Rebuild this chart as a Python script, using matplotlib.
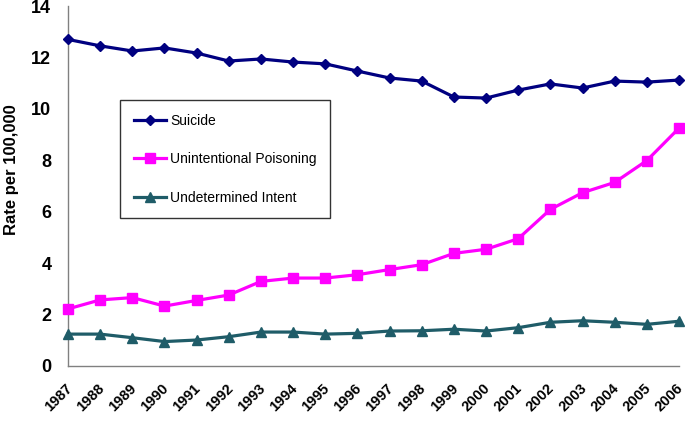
import matplotlib
matplotlib.use('Agg')
from matplotlib import pyplot as plt
from matplotlib.transforms import ScaledTranslation

plt.rcParams['font.family'] = ['Liberation Sans', 'DejaVu Sans']

years = list(range(1987, 2007))
suicide = [12.7, 12.45, 12.25, 12.37, 12.17, 11.86, 11.94, 11.82, 11.75, 11.47,
           11.2, 11.08, 10.46, 10.42, 10.73, 10.97, 10.81, 11.08, 11.04, 11.12]
poisoning = [2.22, 2.57, 2.66, 2.33, 2.55, 2.76, 3.29, 3.42, 3.42, 3.55,
             3.75, 3.94, 4.38, 4.54, 4.95, 6.09, 6.74, 7.14, 7.99, 9.25]
undetermined = [1.24, 1.24, 1.1, 0.95, 1.01, 1.14, 1.32, 1.32, 1.24, 1.27,
                1.36, 1.37, 1.43, 1.36, 1.49, 1.70, 1.76, 1.70, 1.62, 1.74]

fig = plt.figure(figsize=(6.85, 4.21), dpi=100)
ax = fig.add_axes([68/685, 1-366/421, (679-68)/685, (366-6)/421])

ax.plot(years, suicide, color='#000080', lw=2.3, marker='D', ms=5,
        label='Suicide', clip_on=False, zorder=3)
ax.plot(years, poisoning, color='#ff00ff', lw=2.3, marker='s', ms=6.5,
        label='Unintentional Poisoning', clip_on=False, zorder=3)
ax.plot(years, undetermined, color='#1f5c68', lw=2.3, marker='^', ms=6.5,
        label='Undetermined Intent', clip_on=False, zorder=3)

narrow = ['Liberation Sans Narrow', 'Liberation Sans', 'DejaVu Sans']
ax.set_xlim(1987, 2006)
ax.set_ylim(0, 14)
ax.set_yticks(range(0, 15, 2))
ax.set_xticks(years)
ax.set_xticklabels([str(y) for y in years], rotation=45, ha='right',
                   rotation_mode='anchor', fontsize=10.5, fontweight='bold')
ax.set_yticklabels([str(v) for v in range(0, 15, 2)], fontsize=13,
                   fontweight='bold', family=narrow)
ax.tick_params(length=0)
ax.tick_params(axis='y', pad=12)
ax.tick_params(axis='x', pad=11)

# nudge year labels a little left so the last one stays inside the figure
shift = ScaledTranslation(-3/100, 0, fig.dpi_scale_trans)
for t in ax.get_xticklabels():
    t.set_transform(t.get_transform() + shift)

for s in ['top', 'right']:
    ax.spines[s].set_visible(False)
for s in ['left', 'bottom']:
    ax.spines[s].set_color('#808080')
    ax.spines[s].set_linewidth(1)

fig.text(12/685, 1-170/421, 'Rate per 100,000', rotation=90, ha='center',
         va='center', fontsize=12, fontweight='bold')

leg = ax.legend(loc='upper left', bbox_to_anchor=(120/685, 1-100/421),
                bbox_transform=fig.transFigure, fontsize=10, frameon=True,
                fancybox=False, edgecolor='black', labelspacing=1.75,
                handlelength=2.3, handletextpad=0.3, borderpad=1.0,
                borderaxespad=0)
leg.get_frame().set_linewidth(1)

fig.savefig('out.png', dpi=100)
